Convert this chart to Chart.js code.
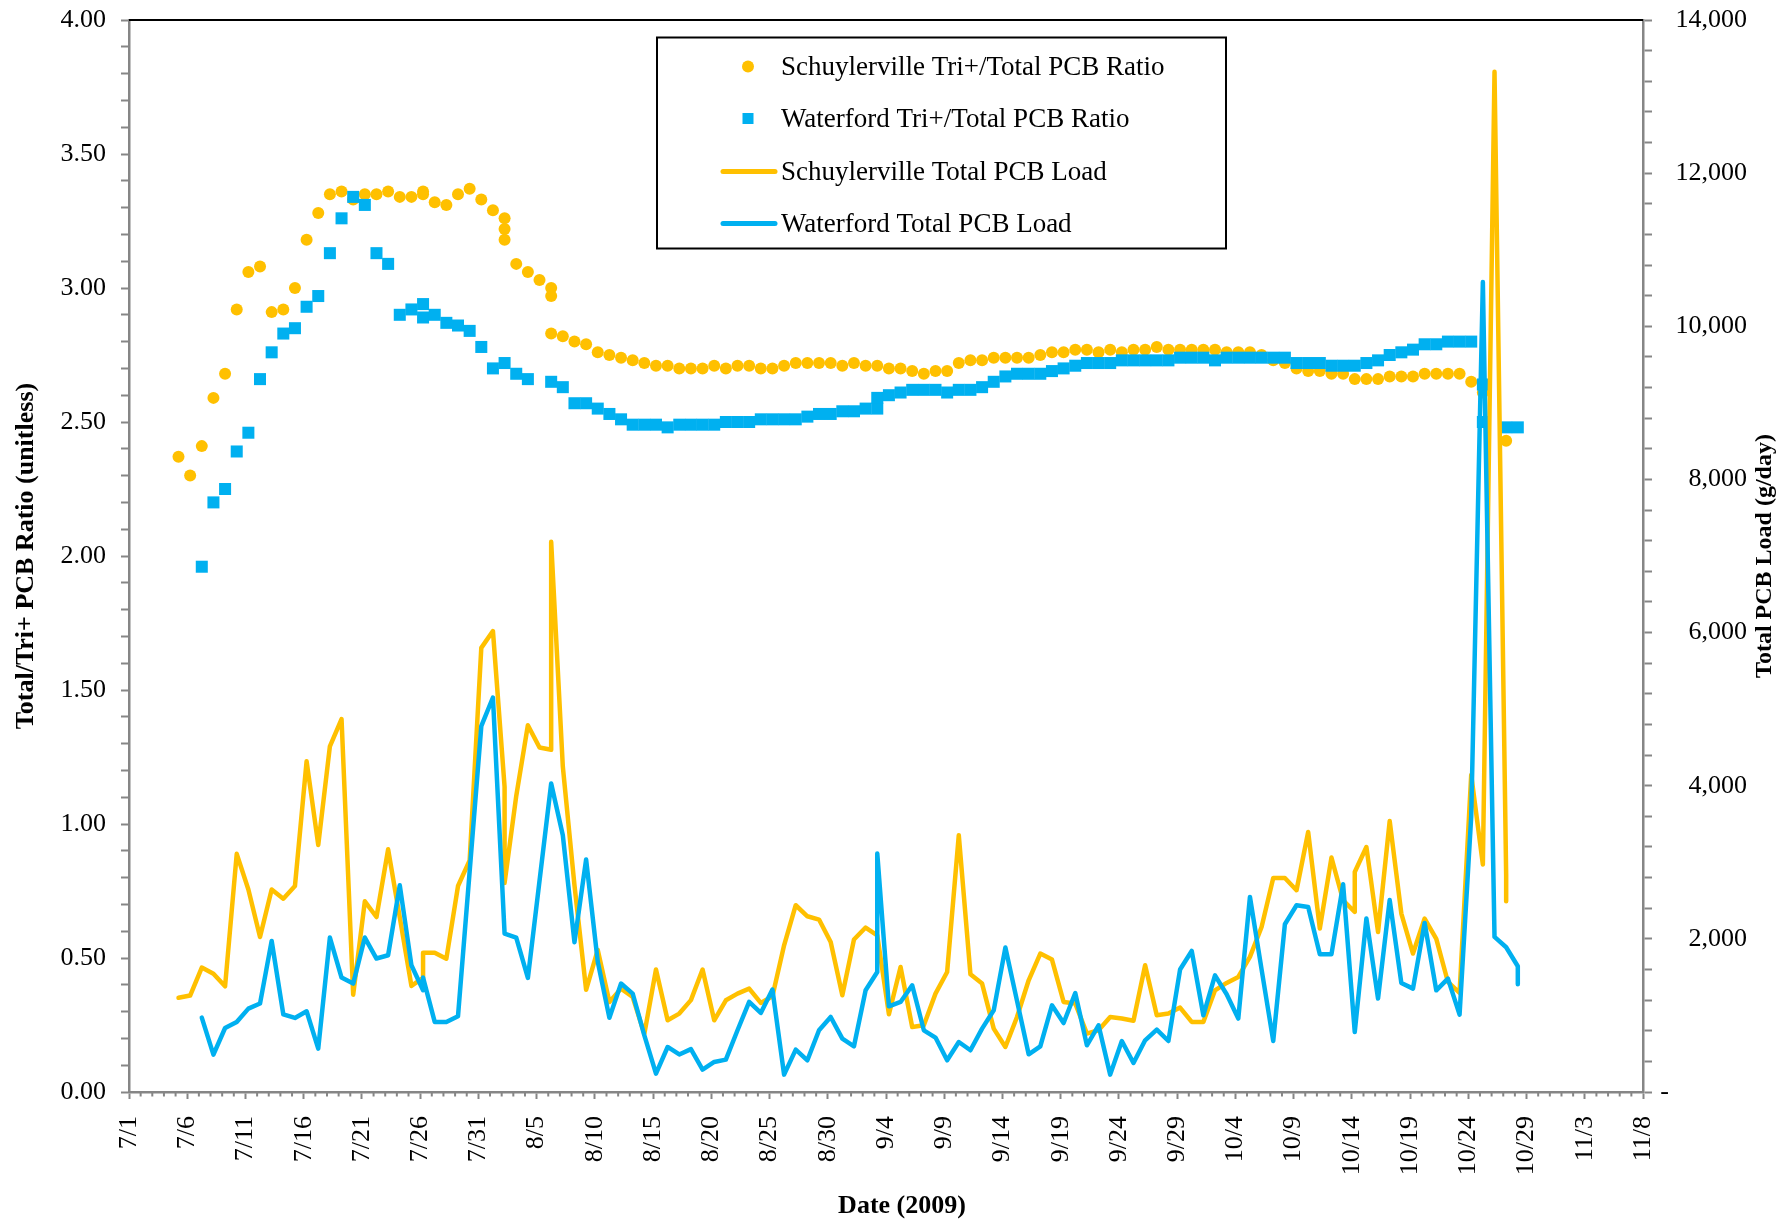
<!DOCTYPE html>
<html>
<head>
<meta charset="utf-8">
<title>Tri+/Total PCB ratio and Total PCB load, 2009</title>
<script src="https://cdn.jsdelivr.net/npm/chart.js@4.4.1/dist/chart.umd.min.js"></script>
<style>
  html, body { margin: 0; padding: 0; background: #ffffff; }
  canvas { display: block; }
</style>
</head>
<body>
<canvas id="pcbChart" width="1781" height="1222"></canvas>
<script>
// Days are counted from 7/1/2009 (day 0). A day listed twice had two samples.
const dateLabels = ["7/1", "7/6", "7/11", "7/16", "7/21", "7/26", "7/31", "8/5", "8/10",
    "8/15", "8/20", "8/25", "8/30", "9/4", "9/9", "9/14", "9/19", "9/24", "9/29",
    "10/4", "10/9", "10/14", "10/19", "10/24", "10/29", "11/3", "11/8"];
// zero is shown as an accounting-style dash, pushed to the left with no-break spaces
const loadTickLabels = ["-\u00A0\u00A0\u00A0\u00A0\u00A0\u00A0\u00A0\u00A0\u00A0\u00A0\u00A0\u00A0",
    "2,000", "4,000", "6,000", "8,000", "10,000", "12,000", "14,000"];
const sampleHour = 6;

// Schuylerville Tri+/Total PCB ratio
const schRatioDays = [4, 5, 6, 7, 8, 9, 10, 11, 12, 13, 14, 15, 16, 17, 18, 19, 20, 21, 22, 23, 24,
    25, 25, 26, 27, 28, 29, 30, 31, 32, 32, 32, 33, 34, 35, 36, 36, 36,
    37, 38, 39, 40, 41, 42, 43, 44, 45, 46, 47, 48, 49, 50,
    51, 52, 53, 54, 55, 56, 57, 58, 59, 60,
    61, 62, 63, 64, 65, 66, 67, 68, 69, 70,
    71, 72, 73, 74, 75, 76, 77, 78, 79, 80,
    81, 82, 83, 84, 85, 86, 87, 88, 89, 90,
    91, 92, 93, 94, 95, 96, 97, 98, 99, 100,
    101, 102, 103, 104, 105, 106, 107, 108, 109, 110,
    111, 112, 113, 114, 115, 116, 118];
const schRatio = [2.37, 2.30, 2.41, 2.59, 2.68, 2.92, 3.06, 3.08, 2.91, 2.92, 3.00, 3.18, 3.28, 3.35, 3.36, 3.33, 3.35, 3.35, 3.36, 3.34, 3.34,
    3.35, 3.36, 3.32, 3.31, 3.35, 3.37, 3.33, 3.29, 3.26, 3.22, 3.18, 3.09, 3.06, 3.03, 3.00, 2.97, 2.83,
    2.82, 2.80, 2.79, 2.76, 2.75, 2.74, 2.73, 2.72, 2.71, 2.71, 2.70, 2.70, 2.70, 2.71,
    2.70, 2.71, 2.71, 2.70, 2.70, 2.71, 2.72, 2.72, 2.72, 2.72,
    2.71, 2.72, 2.71, 2.71, 2.70, 2.70, 2.69, 2.68, 2.69, 2.69,
    2.72, 2.73, 2.73, 2.74, 2.74, 2.74, 2.74, 2.75, 2.76, 2.76,
    2.77, 2.77, 2.76, 2.77, 2.76, 2.77, 2.77, 2.78, 2.77, 2.77,
    2.77, 2.77, 2.77, 2.76, 2.76, 2.76, 2.75, 2.73, 2.72, 2.70,
    2.69, 2.69, 2.68, 2.68, 2.66, 2.66, 2.66, 2.67, 2.67, 2.67,
    2.68, 2.68, 2.68, 2.68, 2.65, 2.61, 2.43];

// Waterford Tri+/Total PCB ratio
const watRatioDays = [6, 7, 8, 9, 10, 11, 12, 13, 14, 15, 16, 17, 18, 19, 20, 21, 22, 23, 24,
    25, 25, 26, 27, 28, 29, 30, 31, 32, 33, 34,
    36, 37, 38, 39, 40, 41, 42, 43, 44, 45, 46, 47, 48, 49, 50,
    51, 52, 53, 54, 55, 56, 57, 58, 59, 60,
    61, 62, 63, 64, 64, 65, 66, 67, 68, 69, 70,
    71, 72, 73, 74, 75, 76, 77, 78, 79, 80,
    81, 82, 83, 84, 85, 86, 87, 88, 89, 90,
    91, 92, 93, 94, 95, 96, 97, 98, 99, 100,
    101, 102, 103, 104, 105, 106, 107, 108, 109, 110,
    111, 112, 113, 114, 115, 116, 116, 118, 119];
const watRatio = [1.96, 2.20, 2.25, 2.39, 2.46, 2.66, 2.76, 2.83, 2.85, 2.93, 2.97, 3.13, 3.26, 3.34, 3.31, 3.13, 3.09, 2.90, 2.92,
    2.89, 2.94, 2.90, 2.87, 2.86, 2.84, 2.78, 2.70, 2.72, 2.68, 2.66,
    2.65, 2.63, 2.57, 2.57, 2.55, 2.53, 2.51, 2.49, 2.49, 2.49, 2.48, 2.49, 2.49, 2.49, 2.49,
    2.50, 2.50, 2.50, 2.51, 2.51, 2.51, 2.51, 2.52, 2.53, 2.53,
    2.54, 2.54, 2.55, 2.55, 2.59, 2.60, 2.61, 2.62, 2.62, 2.62, 2.61,
    2.62, 2.62, 2.63, 2.65, 2.67, 2.68, 2.68, 2.68, 2.69, 2.70,
    2.71, 2.72, 2.72, 2.72, 2.73, 2.73, 2.73, 2.73, 2.73, 2.74,
    2.74, 2.74, 2.73, 2.74, 2.74, 2.74, 2.74, 2.74, 2.74, 2.72,
    2.72, 2.72, 2.71, 2.71, 2.71, 2.72, 2.73, 2.75, 2.76, 2.77,
    2.79, 2.79, 2.80, 2.80, 2.80, 2.64, 2.50, 2.48, 2.48];

// Schuylerville Total PCB load (g/day)
const schLoadDays = [4, 5, 6, 7, 8, 9, 10, 11, 12, 13, 14, 15, 16, 17, 18, 19, 20, 21, 22, 23, 24,
    25, 25, 26, 27, 28, 29, 30, 31, 32, 32, 33, 34, 35, 36, 36,
    37, 38, 39, 40, 41, 42, 43, 44, 45, 46,
    47, 48, 49, 50, 51, 52, 53, 54, 55, 56,
    57, 58, 59, 60, 61, 62, 63, 64, 65, 66,
    67, 68, 69, 70, 71, 72, 73, 74, 75, 76,
    77, 78, 79, 80, 81, 82, 83, 84, 85, 86,
    87, 88, 89, 90, 91, 92, 93, 94, 95, 96,
    97, 98, 99, 100, 101, 102, 103, 104, 105, 105,
    106, 107, 108, 109, 110, 111, 112, 113, 114, 115, 116, 117, 118, 118];
const schLoad = [1230, 1260, 1625, 1545, 1380, 3110, 2645, 2025, 2645, 2525, 2690, 4320, 3225, 4515, 4870, 1270, 2490, 2285, 3170, 2280, 1385,
    1490, 1820, 1820, 1740, 2690, 3025, 5800, 6020, 3985, 2730, 3865, 4790, 4500, 4470, 7185,
    4250, 2700, 1335, 1855, 1175, 1350, 1240, 760, 1600, 937,
    1024, 1200, 1600, 936, 1198, 1285, 1350, 1163, 1250, 1916,
    2439, 2295, 2252, 1959, 1263, 1991, 2148, 2047, 1015, 1633,
    849, 871, 1285, 1567, 3353, 1537, 1416, 828, 588, 980,
    1459, 1808, 1730, 1176, 1155, 763, 806, 980, 960, 930,
    1655, 1002, 1024, 1103, 915, 915, 1328, 1424, 1502, 1764,
    2155, 2795, 2795, 2635, 3396, 2135, 3062, 2504, 2351, 2874,
    3200, 2090, 3540, 2330, 1808, 2265, 2000, 1437, 1295, 4141, 2972, 13324, 2836, 2490];

// Waterford Total PCB load (g/day)
const watLoadDays = [6, 7, 8, 9, 10, 11, 12, 13, 14, 15, 16, 17, 18, 19, 20, 21, 22, 23, 24,
    25, 25, 26, 27, 28, 29, 30, 31, 32, 33, 34,
    36, 37, 38, 39, 40, 41, 42, 43, 44, 45,
    46, 47, 48, 49, 50, 51, 52, 53, 54, 55,
    56, 57, 58, 59, 60, 61, 62, 63, 64, 64,
    65, 66, 67, 68, 69, 70, 71, 72, 73, 74,
    75, 76, 77, 78, 79, 80, 81, 82, 83, 84,
    85, 86, 87, 88, 89, 90, 91, 92, 93, 94,
    95, 96, 97, 98, 99, 100, 101, 102, 103, 104,
    105, 106, 107, 108, 109, 110, 111, 112, 113, 114,
    115, 116, 117, 118, 119, 119];
const watLoad = [972, 488, 836, 915, 1089, 1155, 1973, 1015, 967, 1054, 567, 2017, 1494, 1416, 2017, 1743, 1786, 2700, 1655,
    1329, 1494, 915, 915, 989, 2880, 4777, 5152, 2069, 2017, 1490,
    4030, 3353, 1955, 3036, 1700, 970, 1416, 1285, 740, 240,
    588, 490, 560, 293, 392, 423, 806, 1177, 1032, 1338,
    227, 554, 414, 806, 980, 697, 597, 1328, 1567, 3115,
    1119, 1176, 1394, 806, 711, 414, 653, 545, 828, 1067,
    1886, 1190, 492, 597, 1132, 901, 1293, 610, 871, 227,
    666, 379, 675, 815, 666, 1599, 1842, 1002, 1524, 1276,
    959, 2547, 1600, 666, 2191, 2439, 2417, 1799, 1799, 2713,
    784, 2265, 1220, 2508, 1424, 1350, 2208, 1328, 1481, 1010,
    3600, 10579, 2026, 1890, 1642, 1407];

const ORANGE = "#FFC000";
const BLUE = "#00B0F0";
const AXIS_GREY = "#868686";
const SERIF = '"Liberation Serif", "Times New Roman", serif';

[[schRatioDays, schRatio], [watRatioDays, watRatio], [schLoadDays, schLoad], [watLoadDays, watLoad]]
    .forEach(([d, v], i) => {
        if (d.length !== v.length) console.error("length mismatch in series", i, d.length, v.length);
    });

function toPoints(days, values) {
    return days.map((d, i) => ({ x: d + sampleHour / 24, y: values[i] }));
}

// Extras: top frame line, minor day ticks, boxed legend, axis titles
const pcbExtras = {
    id: "pcbExtras",
    afterDraw(chart) {
        const ctx = chart.ctx;
        const area = chart.chartArea;
        const xScale = chart.scales.x;

        ctx.save();

        // top border of the plot area
        ctx.strokeStyle = "#000000";
        ctx.lineWidth = 2;
        ctx.beginPath();
        ctx.moveTo(area.left, area.top);
        ctx.lineTo(area.right, area.top);
        ctx.stroke();

        // minor ticks, one per day
        ctx.strokeStyle = AXIS_GREY;
        ctx.lineWidth = 2;
        for (let d = xScale.min; d <= xScale.max; d++) {
            if (d % 5 === 0) continue;
            const px = xScale.getPixelForValue(d);
            ctx.beginPath();
            ctx.moveTo(px, area.bottom);
            ctx.lineTo(px, area.bottom + 4.5);
            ctx.stroke();
        }

        // legend box
        const boxLeft = area.left + 528;
        const boxTop = area.top + 17.5;
        const boxW = 569;
        const boxH = 211;
        ctx.fillStyle = "#ffffff";
        ctx.fillRect(boxLeft, boxTop, boxW, boxH);
        ctx.strokeStyle = "#000000";
        ctx.lineWidth = 2;
        ctx.strokeRect(boxLeft, boxTop, boxW, boxH);

        ctx.font = "27px " + SERIF;
        ctx.textAlign = "left";
        ctx.textBaseline = "middle";
        const rowY = [29, 81, 134, 186];
        chart.data.datasets.forEach((ds, i) => {
            const y = boxTop + rowY[i];
            const cx = boxLeft + 91;
            ctx.fillStyle = ds.borderColor;
            ctx.strokeStyle = ds.borderColor;
            if (ds.showLine === false) {
                if (ds.pointStyle === "rect") {
                    ctx.fillRect(cx - 5.5, y - 5.5, 11, 11);
                } else {
                    ctx.beginPath();
                    ctx.arc(cx, y, 6, 0, Math.PI * 2);
                    ctx.fill();
                }
            } else {
                ctx.lineWidth = 5;
                ctx.lineCap = "round";
                ctx.beginPath();
                ctx.moveTo(boxLeft + 66, y);
                ctx.lineTo(boxLeft + 118, y);
                ctx.stroke();
            }
            ctx.fillStyle = "#000000";
            ctx.fillText(ds.label, boxLeft + 124, y + 1);
        });

        // x-axis title
        ctx.font = "bold 26px " + SERIF;
        ctx.textAlign = "center";
        ctx.fillStyle = "#000000";
        ctx.fillText("Date (2009)", (area.left + area.right) / 2 + 16, chart.height - 16);

        // right-hand axis title, reading bottom to top
        ctx.font = "bold 24px " + SERIF;
        ctx.translate(chart.width - 16, (area.top + area.bottom) / 2);
        ctx.rotate(-Math.PI / 2);
        ctx.fillText("Total PCB Load (g/day)", 0, 0);

        ctx.restore();
    }
};

const ctx = document.getElementById("pcbChart").getContext("2d");

const pcbChart = new Chart(ctx, {
    type: "line",
    data: {
        datasets: [
            {
                label: "Schuylerville Tri+/Total PCB Ratio",
                data: toPoints(schRatioDays, schRatio),
                yAxisID: "y",
                showLine: false,
                pointStyle: "circle",
                pointRadius: 6,
                pointBorderWidth: 0,
                backgroundColor: ORANGE,
                borderColor: ORANGE,
                order: 4
            },
            {
                label: "Waterford Tri+/Total PCB Ratio",
                data: toPoints(watRatioDays, watRatio),
                yAxisID: "y",
                showLine: false,
                pointStyle: "rect",
                pointRadius: 8.5,
                pointBorderWidth: 0,
                backgroundColor: BLUE,
                borderColor: BLUE,
                order: 3
            },
            {
                label: "Schuylerville Total PCB Load",
                data: toPoints(schLoadDays, schLoad),
                yAxisID: "y1",
                borderColor: ORANGE,
                backgroundColor: ORANGE,
                borderWidth: 4.5,
                pointRadius: 0,
                tension: 0,
                borderJoinStyle: "round",
                borderCapStyle: "round",
                order: 2
            },
            {
                label: "Waterford Total PCB Load",
                data: toPoints(watLoadDays, watLoad),
                yAxisID: "y1",
                borderColor: BLUE,
                backgroundColor: BLUE,
                borderWidth: 4.5,
                pointRadius: 0,
                tension: 0,
                borderJoinStyle: "round",
                borderCapStyle: "round",
                order: 1
            }
        ]
    },
    options: {
        responsive: false,
        animation: false,
        devicePixelRatio: 1,
        layout: {
            padding: { top: 20, left: 0, right: 34, bottom: 0 }
        },
        plugins: {
            legend: { display: false },
            tooltip: { enabled: false }
        },
        scales: {
            x: {
                type: "linear",
                min: 0,
                max: 130,
                afterFit(scale) {
                    scale.height = 130;
                    scale.paddingLeft = 0;
                    scale.paddingRight = 0;
                },
                border: { display: true, color: AXIS_GREY, width: 2.5 },
                grid: {
                    drawOnChartArea: false,
                    drawTicks: true,
                    tickLength: 7,
                    tickColor: AXIS_GREY,
                    tickWidth: 2
                },
                ticks: {
                    stepSize: 5,
                    autoSkip: false,
                    minRotation: 90,
                    maxRotation: 90,
                    padding: 17,
                    color: "#000000",
                    font: { family: SERIF, size: 26 },
                    callback: (value) => dateLabels[Math.round(value / 5)]
                }
            },
            y: {
                position: "left",
                min: 0,
                max: 4,
                afterFit(scale) {
                    scale.width = 129;
                    scale.paddingTop = 0;
                    scale.paddingBottom = 0;
                },
                border: { display: true, color: AXIS_GREY, width: 2.5 },
                grid: {
                    drawOnChartArea: false,
                    drawTicks: true,
                    tickLength: 8,
                    tickColor: AXIS_GREY,
                    tickWidth: 2
                },
                ticks: {
                    stepSize: 0.1,
                    autoSkip: false,
                    padding: 15,
                    color: "#000000",
                    font: { family: SERIF, size: 26 },
                    callback: (value) => {
                        const halves = value * 2;
                        return Math.abs(halves - Math.round(halves)) < 1e-6 ? value.toFixed(2) : "";
                    }
                },
                title: {
                    display: true,
                    text: "Total/Tri+ PCB Ratio (unitless)",
                    color: "#000000",
                    font: { family: SERIF, size: 26, weight: "bold" },
                    padding: { top: 11, bottom: 0 }
                }
            },
            y1: {
                position: "right",
                min: 0,
                max: 14000,
                afterFit(scale) {
                    scale.width = 104;
                    scale.paddingTop = 0;
                    scale.paddingBottom = 0;
                },
                border: { display: true, color: AXIS_GREY, width: 2.5 },
                grid: {
                    drawOnChartArea: false,
                    drawTicks: true,
                    tickLength: 9,
                    tickColor: AXIS_GREY,
                    tickWidth: 2
                },
                ticks: {
                    stepSize: 400,
                    autoSkip: false,
                    crossAlign: "far",
                    padding: 8,
                    color: "#000000",
                    font: { family: SERIF, size: 26 },
                    callback: (value) => (value % 2000 === 0 ? loadTickLabels[value / 2000] : "")
                }
            }
        }
    },
    plugins: [pcbExtras]
});
</script>
</body>
</html>
